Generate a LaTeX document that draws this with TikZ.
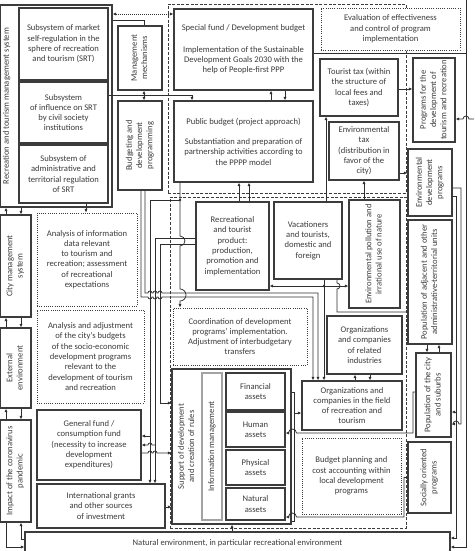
\documentclass[tikz,border=0pt]{standalone}
\usepackage{fontspec}
\setmainfont{Carlito}
\usepackage{graphicx}
\usetikzlibrary{arrows.meta,positioning,calc}
\definecolor{Ink}{HTML}{3C3C3C}
\definecolor{Wire}{HTML}{2E2E2E}
\definecolor{Soft}{HTML}{A3A3A3}
\newcommand\vtxt[1]{\rotatebox{90}{\begin{tabular}{@{}c@{}}#1\end{tabular}}}
\tikzset{
  box/.style={draw=Ink,fill=white,line width=1.1pt,align=center,inner sep=1pt,text=Ink},
  dotbox/.style={box,line width=.9pt,dash pattern=on .9pt off 1.3pt},
  softbox/.style={box,draw=Soft},
  zone/.style={draw=Ink,line width=.8pt,dash pattern=on 3pt off 1.6pt},
  wire/.style={draw=Wire,line width=.75pt},
  flow/.style={wire,-{Latex[length=3.6pt,width=3.2pt]}},
  twoway/.style={wire,{Latex[length=3.6pt,width=3.2pt]}-{Latex[length=3.6pt,width=3.2pt]}}
}
\begin{document}
\begin{tikzpicture}[x=1pt,y=-1pt,font=\fontsize{8.6}{10.3}\selectfont]
  \useasboundingbox (0,0) rectangle (474,551);
  % dashed zones
  \node[zone,minimum width=238pt,minimum height=189pt] (topzone) at (287,98.5) {};
  \node[zone,minimum width=236pt,minimum height=331pt] (lowzone) at (288,362.5) {};

  % left column
  \node[box,minimum width=112pt,minimum height=202pt] (rtms) at (56,106) {};
  \node[anchor=west,inner sep=2pt,text=Ink] (rtmslabel) at (rtms.west) {\vtxt{Recreation and tourism management system}};
  \node[box,minimum width=89pt,minimum height=72pt] (sub1) at (63.5,44) {Subsystem of market\\self-regulation in the\\sphere of recreation\\and tourism (SRT)};
  \node[box,minimum width=89pt,minimum height=61pt] (sub2) at (63.5,112.5) {Subsystem\\of influence on SRT\\by civil society\\institutions};
  \node[box,minimum width=89pt,minimum height=58pt] (sub3) at (63.5,174) {Subsystem of\\administrative and\\territorial regulation\\of SRT};
  \node[box,minimum width=31pt,minimum height=102pt] (city) at (15.5,266) {\vtxt{City management\\system}};
  \node[box,minimum width=31pt,minimum height=80pt] (ext) at (15.5,368) {\vtxt{External\\environment}};
  \node[box,minimum width=31pt,minimum height=102pt] (covid) at (15.5,471) {\vtxt{Impact of the coronavirus\\pandemic}};
  \node[box,minimum width=425pt,minimum height=22pt] (natural) at (237.5,543) {Natural environment, in particular recreational environment};

  \node[dotbox,minimum width=100pt,minimum height=93pt] (analysis1) at (87,259.5) {Analysis of information\\data relevant\\to tourism and\\recreation; assessment\\of recreational\\expectations};
  \node[dotbox,minimum width=107pt,minimum height=93pt] (analysis2) at (90.5,356.5) {Analysis and adjustment\\of the city’s budgets\\of the socio-economic\\development programs\\relevant to the\\development of tourism\\and recreation};
  \node[box,minimum width=104pt,minimum height=70pt] (genfund) at (89,445) {General fund /\\consumption fund\\(necessity to increase\\development\\expenditures)};
  \node[box,minimum width=128pt,minimum height=44pt] (grants) at (101,506) {International grants\\and other sources\\of investment};

  \node[box,minimum width=44pt,minimum height=64pt] (mgmt) at (140,58) {\vtxt{Management\\mechanisms}};
  \node[box,minimum width=44pt,minimum height=89pt] (budg) at (140,145.5) {\vtxt{Budgeting and\\development\\programming}};

  % upper zone
  \node[box,minimum width=139pt,minimum height=81pt] (special) at (243.5,49.5) {Special fund / Development budget\\[11pt]Implementation of the Sustainable\\Development Goals 2030 with the\\help of People-first PPP};
  \node[box,minimum width=139pt,minimum height=81pt] (public) at (243.5,141.5) {Public budget (project approach)\\[10pt]Substantiation and preparation of\\partnership activities according to\\the PPPP model};
  \node[dotbox,minimum width=139pt,minimum height=42pt] (evaluation) at (390.5,29) {Evaluation of effectiveness\\and control of program\\implementation};
  \node[box,minimum width=78pt,minimum height=57pt] (touristtax) at (359,87.5) {Tourist tax (within\\the structure of\\local fees and\\taxes)};
  \node[box,minimum width=70pt,minimum height=58pt] (envtax) at (364,151) {Environmental\\tax\\(distribution in\\favor of the\\city)};

  % right column
  \node[box,minimum width=42pt,minimum height=84pt] (progdev) at (434,100) {\vtxt{Programs for the\\development of\\tourism and recreation}};
  \node[box,minimum width=44pt,minimum height=67pt] (envdev) at (430,182.5) {\vtxt{Environmental\\development\\programs}};
  \node[box,minimum width=44pt,minimum height=124pt] (popadj) at (430,282) {\vtxt{Population of adjacent and other\\administrative-territorial units}};
  \node[box,minimum width=35pt,minimum height=84pt] (popcity) at (433.5,395) {\vtxt{Population of the city\\and suburbs}};
  \node[box,minimum width=43pt,minimum height=71pt] (social) at (429.5,477.5) {\vtxt{Socially oriented\\programs}};

  % lower zone
  \node[box,minimum width=73pt,minimum height=88pt] (product) at (232.5,246) {Recreational\\and tourist\\product:\\production,\\promotion and\\implementation};
  \node[box,minimum width=68pt,minimum height=77pt] (vacationers) at (308,240.5) {Vacationers\\and tourists,\\domestic and\\foreign};
  \node[box,minimum width=51pt,minimum height=108pt] (pollution) at (374.5,254) {\vtxt{Environmental pollution and\\irrational use of nature}};
  \node[dotbox,minimum width=134pt,minimum height=57pt] (coord) at (240,336.5) {Coordination of development\\programs’ implementation.\\Adjustment of interbudgetary\\transfers};
  \node[box,minimum width=75pt,minimum height=58pt] (related) at (364.5,345) {Organizations\\and companies\\of related\\industries};
  \node[box,minimum width=119pt,minimum height=155pt] (support) at (231.5,446.5) {};
  \node[anchor=west,inner sep=1pt,text=Ink] (supportlabel) at ([xshift=4pt]support.west) {\vtxt{Support of development\\and creation of rules}};
  \node[softbox,minimum width=20pt,minimum height=147pt] (infomgmt) at (212,446.5) {\vtxt{Information management}};
  \node[box,minimum width=59pt,minimum height=37pt] (financial) at (255.5,391.5) {Financial\\assets};
  \node[box,minimum width=59pt,minimum height=35pt] (human) at (255.5,429.5) {Human\\assets};
  \node[box,minimum width=59pt,minimum height=35pt] (physical) at (255.5,467.5) {Physical\\assets};
  \node[box,minimum width=59pt,minimum height=32pt] (natasset) at (255.5,504) {Natural\\assets};
  \node[box,minimum width=100pt,minimum height=49pt] (orgs) at (352,405.5) {Organizations and\\companies in the field\\of recreation and\\tourism};
  \node[dotbox,minimum width=99pt,minimum height=76pt] (budgetplan) at (351.5,476) {Budget planning and\\cost accounting within\\local development\\programs};

  \coordinate (spinetop) at (466,0);
  \coordinate (spinebot) at (466,547);
  \coordinate (rightin) at (474,119);
  \coordinate (vj) at (324,286);
  \coordinate (pj) at (180,200);
  \coordinate (t150) at (150,436);
  \coordinate (t155) at (155,445);
  \coordinate (t456) at (456,412);
  \coordinate (t294) at (294,413);

  % left chain
  \draw[flow] (city.north -| 6,0) -- (rtms.south -| 6,0);
  \draw[flow] (rtms.south -| 21,0) -- (city.north -| 21,0);
  \draw[flow] (ext.north -| 6,0) -- (city.south -| 6,0);
  \draw[flow] (city.south -| 21,0) -- (ext.north -| 21,0);
  \draw[flow] (covid.north -| 6,0) -- (ext.south -| 6,0);
  \draw[flow] (ext.south -| 21,0) -- (covid.north -| 21,0);
  \draw[flow] (covid.south -| 6,0) |- (natural.west |- 0,547);
  \draw[flow] (natural.west |- 0,539) -| (covid.south -| 21,0);
  \draw[flow] (sub3.south -| 86,0) -- (analysis1.north -| 86,0);

  % top
  \draw[twoway,dash pattern=on .8pt off 1.2pt] (rtms.east |- 0,14) -- (special.west |- 0,14);
  \draw[wire] (rtms.east |- 0,20) -| (mgmt.north -| 144,0);
  \draw[twoway] (mgmt.south -| 144,0) -- (budg.north -| 144,0);
  \draw[flow] (sub2.east |- 0,95) -| (public.north -| 192,0);
  \draw[flow] (public.north -| 271,0) -- (special.south -| 271,0);
  \draw[flow] (special.south -| 285,0) -- (public.north -| 285,0);
  \draw[wire] (special.east |- 0,53) -- (spinetop |- 0,53);
  \draw[flow] (spinetop) -- (spinebot) -- (natural.east |- spinebot);
  \draw[flow] (rightin) -- (469,119) arc[start angle=0,end angle=-180,radius=3] -- (progdev.east |- rightin);
  \draw[flow] (touristtax.east |- 0,89) -- (progdev.west |- 0,89);
  \draw[flow] (envtax.east |- 0,173) -- (envdev.west |- 0,173);
  \draw[flow] (vacationers.north -| 326,0) -- (touristtax.south -| 326,0);
  \draw[flow] (pollution.north -| 364,0) -- (envtax.south -| 364,0);
  \draw[flow] (product.north -| 239,0) -- (public.south -| 239,0);
  \draw[flow] (product.north -| 249,0) -- (public.south -| 249,0);

  % right side
  \draw[flow] (envdev.east |- 0,188) -| (461,424) -- (459,424) arc[start angle=0,end angle=-180,radius=3] -- (popcity.east |- 0,424);
  \draw[flow] (envdev.east |- 0,196) -| (456,538) -- (natural.east |- 0,538);
  \draw[flow] (t456) -- (popcity.east |- t456);
  \draw[flow] (popadj.south -| 427,0) -- (popcity.north -| 427,0);
  \draw[flow] (popcity.north -| 439,0) -- (popadj.south -| 439,0);
  \draw[flow] (popcity.west |- 0,392) -- (413,392) -- (413,433) -- (296.5,433) arc[start angle=0,end angle=-180,radius=4] -- (human.east |- 0,433);
  \draw[flow] (social.west) -- (404,477.5) -- (404,517) -- (296.5,517) arc[start angle=0,end angle=-180,radius=4] -- (natasset.east |- 0,517);
  \draw[wire] (support.east |- 0,392) -- (294,392) -- (294,521) -- (support.east |- 0,521);
  \draw[flow] (t294) -- (orgs.west |- t294);
  \draw[flow] (orgs.north -| 355,0) -- (related.south -| 355,0);
  \draw[flow] (related.south -| 370,0) -- (orgs.north -| 370,0);

  % vacationers
  \draw[wire] (vacationers.south -| vj) -- (vj);
  \draw[flow] (vj) -- (product.east |- vj);
  \draw[flow] (vj) -- (pollution.west |- vj);
  \draw[flow] (vj) -- (orgs.north -| vj);
  \fill[Wire] (vj) circle[radius=1.3];
  \draw[wire] (vacationers.south -| 337,0) -- (337,283) arc[start angle=-90,end angle=90,radius=3] -- (337,312) -- (popadj.west |- 0,312);

  % left bundle
  \draw[flow] (public.south -| pj) -- (180,236) arc[start angle=-90,end angle=90,radius=5] -- (180,289) arc[start angle=-90,end angle=90,radius=6] -- (coord.north -| pj);
  \fill[Wire] (pj) circle[radius=1.3];
  \draw[flow] (pj) -| (grants.north -| 150,0);
  \draw[flow] (t150) -- (genfund.east |- t150);
  \draw[flow] (product.west |- 0,238) -| (grants.north -| 155,0);
  \draw[flow] (t155) -- (152,445) arc[start angle=0,end angle=-180,radius=2] -- (genfund.east |- t155);
  \draw[flow] (product.west |- 0,244) -- (160,244) -- (160,403) -- (support.west |- 0,403);
  \draw[flow] (budg.south -| 141,0) -- (141,297) -- (148,297) arc[start angle=180,end angle=0,radius=2] -- (153,297) arc[start angle=180,end angle=0,radius=2] -- (158,297) arc[start angle=180,end angle=0,radius=2] -- (313,297) -- (orgs.north -| 313,0);
  \draw[flow] (budg.south -| 145,0) -- (145,293) -- (148,293) arc[start angle=180,end angle=360,radius=2] -- (153,293) arc[start angle=180,end angle=360,radius=2] -- (158,293) arc[start angle=180,end angle=360,radius=2] -- (318,293) -- (orgs.north -| 318,0);
  \draw[flow] (genfund.east |- 0,453) -- (148,453) arc[start angle=180,end angle=360,radius=2] -- (153,453) arc[start angle=180,end angle=360,radius=2] -- (support.west |- 0,453);
  \draw[flow] (grants.east |- 0,507) -- (support.west |- 0,507);
  \draw[flow] (natural.north -| 232,0) -- (support.south -| 232,0);
\end{tikzpicture}
\end{document}
